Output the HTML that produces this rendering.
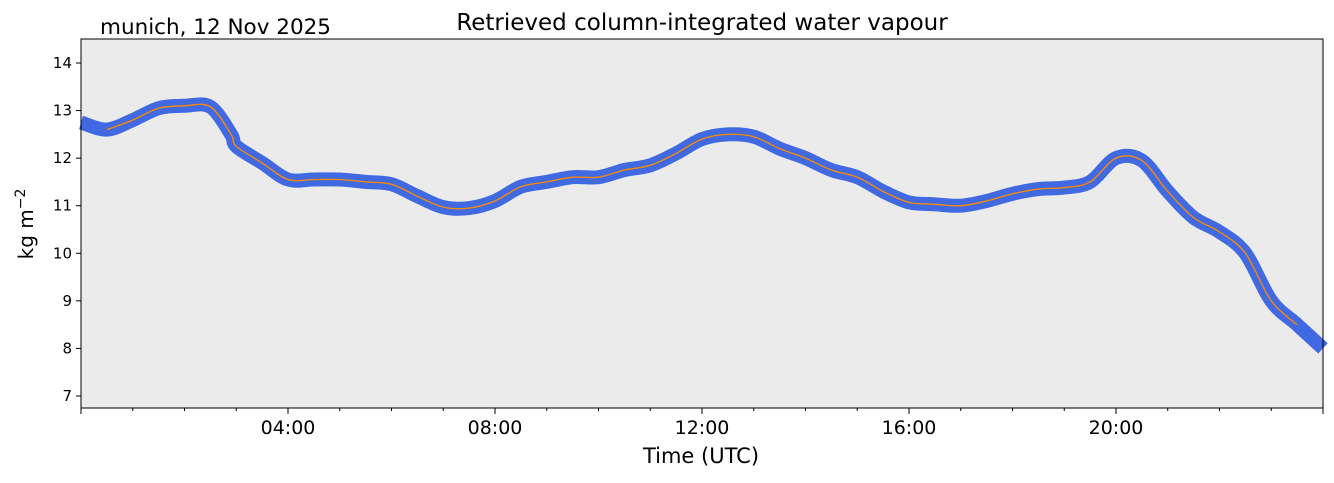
<!DOCTYPE html>
<html><head><meta charset="utf-8"><style>
body{margin:0;background:#fff;font-family:"Liberation Sans","DejaVu Sans",sans-serif}
svg text{font-family:"DejaVu Sans","Liberation Sans",sans-serif}
</style></head><body>
<svg id="chart" width="1334" height="478" xmlns="http://www.w3.org/2000/svg">
<rect x="81" y="39" width="1242" height="369" fill="#ebebeb"/>
<g id="marks"></g>
<rect x="81" y="39" width="1242" height="369" fill="none" stroke="#000" stroke-width="1"/>
<g id="axes"></g>
<text x="100" y="34" font-size="21.5">munich, 12 Nov 2025</text>
<text x="702" y="30" font-size="23" text-anchor="middle">Retrieved column-integrated water vapour</text>
<text x="701" y="463" font-size="21" text-anchor="middle">Time (UTC)</text>
<text transform="translate(33,224) rotate(-90)" font-size="20" text-anchor="middle">kg m<tspan dy="-8" font-size="14">−2</tspan></text>
</svg>
<script>
const hours=[0,0.5,1,1.5,2,2.5,2.9,3,3.5,4,4.5,5,5.5,6,6.5,7,7.5,8,8.5,9,9.5,10,10.5,11,11.5,12,12.5,13,13.5,14,14.5,15,15.5,16,16.5,17,17.5,18,18.5,19,19.5,20,20.5,21,21.5,22,22.5,23,23.5,24];
const iwv=[12.75,12.6,12.8,13.05,13.1,13.08,12.5,12.25,11.9,11.55,11.55,11.55,11.5,11.45,11.2,10.97,10.95,11.1,11.4,11.5,11.6,11.6,11.75,11.85,12.1,12.4,12.5,12.45,12.2,12.0,11.75,11.6,11.3,11.07,11.03,11.0,11.1,11.25,11.35,11.38,11.5,12.0,11.95,11.3,10.75,10.45,10.0,9.0,8.5,8.0];
const yTicks=[7,8,9,10,11,12,13,14];
const xTicks=[4,8,12,16,20];
const xTickLabels=["04:00","08:00","12:00","16:00","20:00"];
const X=h=>81+h*1242/24;
const Y=v=>396-(v-7)*333/7;
const NS="http://www.w3.org/2000/svg";
const marks=document.getElementById('marks'),axes=document.getElementById('axes');
function mk(t,a,p){const e=document.createElementNS(NS,t);for(const k in a)e.setAttribute(k,a[k]);p.appendChild(e);return e;}
function smoothPath(P){
  let d='M'+P[0][0].toFixed(1)+','+P[0][1].toFixed(1);
  for(let i=0;i<P.length-1;i++){
    const p0=P[Math.max(0,i-1)],p1=P[i],p2=P[i+1],p3=P[Math.min(P.length-1,i+2)];
    const c1=[p1[0]+(p2[0]-p0[0])/6,p1[1]+(p2[1]-p0[1])/6];
    const c2=[p2[0]-(p3[0]-p1[0])/6,p2[1]-(p3[1]-p1[1])/6];
    d+=' C'+c1.map(v=>v.toFixed(1)).join(',')+' '+c2.map(v=>v.toFixed(1)).join(',')+' '+p2[0].toFixed(1)+','+p2[1].toFixed(1);
  }
  return d;
}
const P=hours.map((h,i)=>[X(h),Y(iwv[i])]);
const band=mk('path',{d:smoothPath(P),fill:'none',stroke:'#4169e1','stroke-width':14,'stroke-linejoin':'round'},marks);


const SP=hours.map((h,i)=>[h,iwv[i]]).filter(p=>p[0]>=0.35&&p[0]<=23.65).map(p=>[X(p[0]),Y(p[1])]);
const line=mk('path',{d:smoothPath(SP),fill:'none',stroke:'#ff8c00','stroke-width':1.3},marks);


yTicks.forEach(v=>{
  const t=mk('line',{x1:76,x2:81,y1:Y(v),y2:Y(v),stroke:'#000'},axes);
  
  
  const l=mk('text',{x:72,y:Y(v)+5,'font-size':15,'text-anchor':'end'},axes);l.textContent=v;
  
  
});
for(let h=0;h<=24;h++){
  const major=h%4===0;
  const t=mk('line',{x1:X(h),x2:X(h),y1:408,y2:major?414:411,stroke:'#000'},axes);
  
  
}
xTicks.forEach((h,i)=>{
  const l=mk('text',{x:X(h),y:434,'font-size':19,'text-anchor':'middle'},axes);l.textContent=xTickLabels[i];
  
  
});
</script>
</body></html>
